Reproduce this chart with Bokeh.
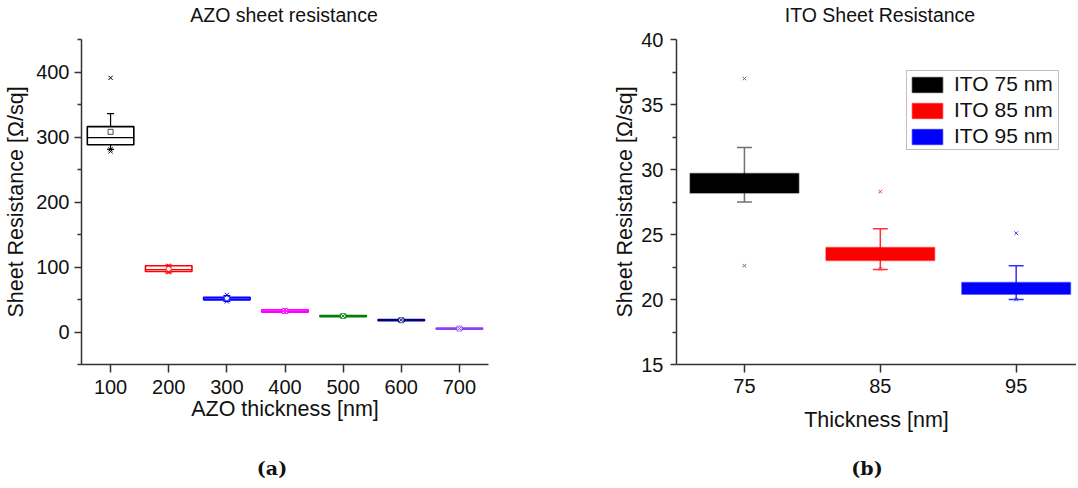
from bokeh.plotting import figure
from bokeh.models import FixedTicker, ColumnDataSource, Legend, LegendItem, Range1d, Div
from bokeh.layouts import row, column
from bokeh.embed import file_html
from bokeh.resources import INLINE

# ---------------- data: AZO (panel a) ----------------
azo_thickness = [100, 200, 300, 400, 500, 600, 700]
azo_q1 = [288, 93, 49.5, 30.5, 23.5, 17.2, 4.5]
azo_q3 = [316, 102, 53.5, 34.0, 25.5, 19.0, 6.0]
azo_median = [299, 96, 51.0, 32.0, 24.5, 18.0, 5.2]
azo_mean = [308, 97, 51.5, 32.3, 24.6, 18.1, 5.3]
azo_whisker_low = [281, 91, 47.0, 29.5, 23.0, 16.8, 4.2]
azo_whisker_high = [336, 103, 56.0, 35.0, 26.0, 19.5, 6.3]
azo_outlier_x = [100, 100, 100, 200, 200, 300, 300, 400, 400, 500, 600, 700]
azo_outlier_y = [391, 281, 278, 102, 92, 57, 47, 34, 31, 24.5, 18.5, 5.5]
azo_colors = ["#000000", "#FF0000", "#0000FF", "#FF00FF", "#008000", "#000080", "#9040F0"]
azo_yticks = [0, 100, 200, 300, 400]

# ---------------- data: ITO (panel b) ----------------
ito_thickness = [75, 85, 95]
ito_labels = ["ITO 75 nm", "ITO 85 nm", "ITO 95 nm"]
ito_q1 = [28.2, 23.0, 20.4]
ito_q3 = [29.7, 24.0, 21.3]
ito_whisker_low = [27.5, 22.3, 20.0]
ito_whisker_high = [31.7, 25.45, 22.6]
ito_outlier_x = [75, 75, 85, 85, 95, 95]
ito_outlier_y = [37.0, 22.6, 28.3, 22.35, 25.1, 20.0]
ito_colors = ["#000000", "#FF0000", "#0000FF"]
ito_whisker_colors = ["#707070", "#FF3030", "#3030FF"]
ito_yticks = [15, 20, 25, 30, 35, 40]

panel_titles = ["AZO sheet resistance", "ITO Sheet Resistance"]
panel_captions = ["(a)", "(b)"]

FONT = "Liberation Sans"


def style_axes(p):
    for ax in (p.xaxis[0], p.yaxis[0]):
        ax.axis_line_color = "#333333"
        ax.axis_line_width = 1.5
        ax.major_tick_line_color = "#333333"
        ax.major_tick_line_width = 1.5
        ax.minor_tick_line_color = "#333333"
        ax.minor_tick_line_width = 1.5
        ax.major_tick_in = 0
        ax.minor_tick_in = 0
        ax.major_label_text_font = FONT
        ax.major_label_text_font_size = "20px"
        ax.major_label_text_color = "#111111"
        ax.axis_label_text_font = FONT
        ax.axis_label_text_font_size = "21.5px"
        ax.axis_label_text_font_style = "normal"
        ax.axis_label_text_color = "#111111"
    p.xgrid.visible = False
    p.ygrid.visible = False
    p.outline_line_color = None


def text_row(texts, centers, height, cy, font, size, weight):
    spans = "".join(
        f'<span style="position:absolute;left:{cx}px;top:{cy}px;transform:translate(-50%,-50%);'
        f'white-space:nowrap;font-family:\'{font}\';font-size:{size};font-weight:{weight};'
        f'color:#111111;line-height:1.15;">{t}</span>'
        for t, cx in zip(texts, centers))
    html = f'<div style="position:relative;width:1078px;height:{height}px;">{spans}</div>'
    return Div(text=html, width=1078, height=height, margin=(0, 0, 0, 0),
               styles={"overflow": "visible"})


# ---------------- panel (a) ----------------
p1 = figure(width=580, height=415, output_backend="svg", toolbar_location=None,
            x_range=Range1d(50, 750), y_range=Range1d(-50, 450),
            min_border_left=81, min_border_right=92, min_border_top=7, min_border_bottom=81)
style_axes(p1)
p1.xaxis.axis_label = "AZO thickness [nm]"
p1.yaxis.axis_label = "Sheet Resistance [Ω/sq]"
p1.xaxis.ticker = FixedTicker(ticks=azo_thickness, minor_ticks=[])
p1.yaxis.ticker = FixedTicker(ticks=azo_yticks, minor_ticks=[t + 50 for t in azo_yticks] + [-50])
p1.xaxis.major_tick_out = 8
p1.xaxis.minor_tick_out = 0
p1.xaxis.major_label_standoff = 7
p1.xaxis.axis_label_standoff = 0
p1.yaxis.major_tick_out = 7
p1.yaxis.minor_tick_out = 4
p1.yaxis.major_label_standoff = 5
p1.yaxis.axis_label_standoff = 5

bw1 = 40
cap1 = 6
azo_src = ColumnDataSource(dict(
    x=azo_thickness,
    left=[x - bw1 for x in azo_thickness],
    right=[x + bw1 for x in azo_thickness],
    cl=[x - cap1 for x in azo_thickness],
    cr=[x + cap1 for x in azo_thickness],
    q1=azo_q1, q3=azo_q3, med=azo_median, mean=azo_mean,
    lo=azo_whisker_low, hi=azo_whisker_high, color=azo_colors,
))
p1.segment(x0="x", y0="q3", x1="x", y1="hi", source=azo_src, line_color="color", line_width=1.2)
p1.segment(x0="x", y0="lo", x1="x", y1="q1", source=azo_src, line_color="color", line_width=1.2)
p1.segment(x0="cl", y0="hi", x1="cr", y1="hi", source=azo_src, line_color="color", line_width=1.2)
p1.segment(x0="cl", y0="lo", x1="cr", y1="lo", source=azo_src, line_color="color", line_width=1.2)
p1.quad(left="left", right="right", bottom="q1", top="q3", source=azo_src,
        fill_color="white", line_color="color", line_width=1.6)
p1.segment(x0="left", y0="med", x1="right", y1="med", source=azo_src, line_color="color", line_width=1.4)
p1.scatter(x="x", y="mean", source=azo_src, marker="square", size=5,
           fill_color="white", line_color="color", line_alpha=0.7)
azo_out_src = ColumnDataSource(dict(
    x=azo_outlier_x, y=azo_outlier_y,
    color=[azo_colors[azo_thickness.index(v)] for v in azo_outlier_x],
))
p1.scatter(x="x", y="y", source=azo_out_src, marker="x", size=6, line_color="color", line_width=1)

# ---------------- panel (b) ----------------
p2 = figure(width=496, height=415, output_backend="svg", toolbar_location=None,
            x_range=Range1d(70, 99.44), y_range=Range1d(15, 40),
            min_border_left=96, min_border_right=0, min_border_top=9, min_border_bottom=81)
style_axes(p2)
p2.xaxis.axis_label = "Thickness [nm]"
p2.yaxis.axis_label = "Sheet Resistance [Ω/sq]"
p2.xaxis.ticker = FixedTicker(ticks=ito_thickness, minor_ticks=[])
p2.yaxis.ticker = FixedTicker(ticks=ito_yticks, minor_ticks=[t + 2.5 for t in ito_yticks[:-1]])
p2.xaxis.major_tick_out = 8
p2.xaxis.minor_tick_out = 0
p2.xaxis.major_label_standoff = 6
p2.xaxis.axis_label_standoff = 12
p2.yaxis.major_tick_out = 6
p2.yaxis.minor_tick_out = 4
p2.yaxis.major_label_standoff = 7
p2.yaxis.axis_label_standoff = 1

bw2 = 4
cap2 = 0.55
items = []
for i, x in enumerate(ito_thickness):
    col = ito_colors[i]
    wc = ito_whisker_colors[i]
    p2.segment(x0=[x], y0=[ito_whisker_low[i]], x1=[x], y1=[ito_whisker_high[i]],
               line_color=wc, line_width=1.5)
    p2.segment(x0=[x - cap2, x - cap2], y0=[ito_whisker_low[i], ito_whisker_high[i]],
               x1=[x + cap2, x + cap2], y1=[ito_whisker_low[i], ito_whisker_high[i]],
               line_color=wc, line_width=1.5)
    r = p2.quad(left=[x - bw2], right=[x + bw2], bottom=[ito_q1[i]], top=[ito_q3[i]],
                fill_color=col, line_color=col, line_alpha=0.45, line_width=1.5)
    items.append(LegendItem(label=ito_labels[i], renderers=[r]))
    ox = [xx for xx in ito_outlier_x if xx == x]
    oy = [yy for xx, yy in zip(ito_outlier_x, ito_outlier_y) if xx == x]
    p2.scatter(x=ox, y=oy, marker="x", size=5, line_color=wc, line_width=1)

legend = Legend(items=items, location=(230, 214), glyph_width=38, glyph_height=19,
                label_height=19, label_width=103, spacing=2, padding=1, margin=0, label_standoff=8,
                label_text_font=FONT, label_text_font_size="21px", label_text_color="#111111",
                border_line_color="#808080", border_line_width=1.2, background_fill_alpha=1)
p2.add_layout(legend)

title_div = text_row(panel_titles, [284, 880], 30, 15, FONT, "19.5px", "normal")
caption_div = text_row(panel_captions, [272, 867], 41, 24, "DejaVu Serif", "19px", "bold")

layout = column(title_div, row(p1, p2), caption_div)
open("out.html", "w").write(file_html(layout, INLINE))
